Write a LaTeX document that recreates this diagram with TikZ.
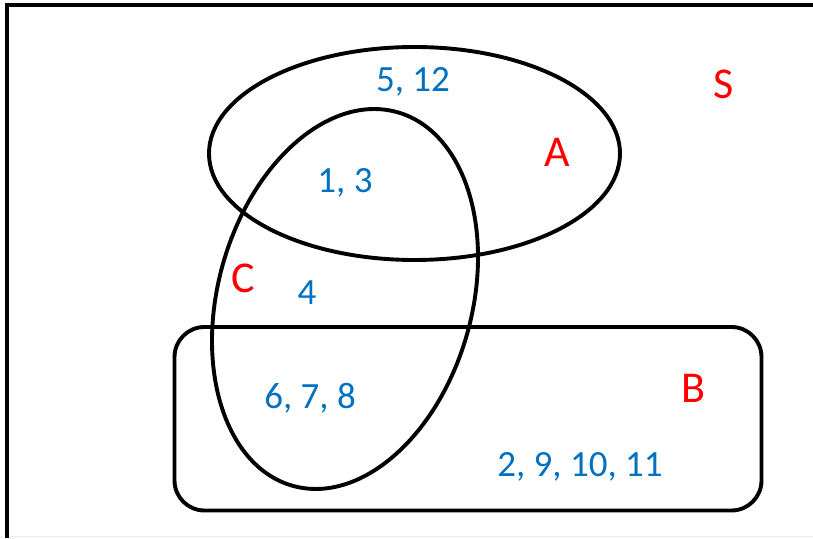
\documentclass[tikz,border=0pt]{standalone}
\usepackage{fontspec}
\setmainfont{Carlito}
\definecolor{numblue}{HTML}{0070C0}
\definecolor{setred}{HTML}{FF0000}
\tikzset{
  setline/.style={line width=3.9pt, draw=black},
  numlabel/.style={anchor=base, inner sep=0pt, text=numblue, font=\fontsize{37}{40}\selectfont},
  setlabel/.style={anchor=base, inner sep=0pt, text=setred, font=\fontsize{44}{48}\selectfont},
}
\begin{document}
\begin{tikzpicture}[x=1pt,y=1pt]
\useasboundingbox (0,0) rectangle (813,538);
% universal frame (partly outside the image)
\draw[line width=4pt] (7,0) -- (7,532.5) -- (815,532.5);
\draw[gray!15, line width=1pt] (9,1.2) -- (813,1.2);
% set B
\draw[setline, rounded corners=30pt] (174.5,27.5) rectangle (761.5,211);
% set A
\draw[setline] (414.5,384.5) ellipse [x radius=205.5, y radius=106.5];
% set C
\draw[setline, rotate around={-15.6:(345,239)}] (345,239) ellipse [x radius=127, y radius=194];
% element labels
\node[numlabel] (n512) at (413,446) {5, 12};
\node[numlabel] (n13) at (345,345) {1, 3};
\node[numlabel] (n4) at (307,233) {4};
\node[numlabel] (n678) at (310,129) {6, 7, 8};
\node[numlabel] (n291011) at (580,62) {2, 9, 10, 11};
% set names
\node[setlabel] (lA) at (557,371) {A};
\node[setlabel] (lS) at (724,439) {S};
\node[setlabel] (lB) at (693,135) {B};
\node[setlabel] (lC) at (243,245) {C};
\end{tikzpicture}
\end{document}
